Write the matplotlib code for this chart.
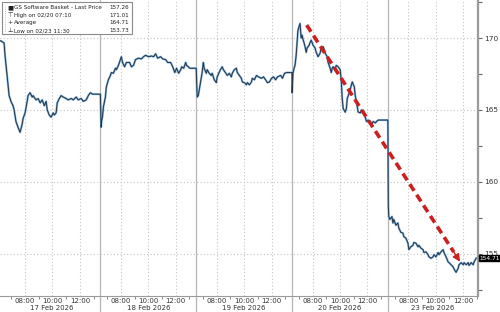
import numpy as np
import matplotlib.pyplot as plt
from matplotlib.transforms import blended_transform_factory
from matplotlib.patches import Rectangle

# sessions (minutes after midnight) and length in minutes
day_labels = ['17 Feb 2026', '18 Feb 2026', '19 Feb 2026', '20 Feb 2026', '23 Feb 2026']
session_open = [370, 390, 390, 390, 390]
session_len = [440, 420, 420, 420, 395]

# prices: minutes after session open / price
d1_min = [0, 4, 13, 18, 22, 31, 40, 48, 57, 62, 70, 79, 88, 97, 101, 110, 119, 123, 132, 141, 145,
          158, 167, 176, 185, 194, 202, 207, 216, 224, 233, 238, 246, 251, 260, 268, 277, 290, 299,
          312, 321, 334, 343, 356, 365, 378, 387, 396, 405, 440]
d1_px = [169.8, 169.8, 169.7, 169.65, 168.8, 167.4, 166.0, 165.6, 165.3, 165.0, 164.2, 163.8, 163.45,
         164.0, 164.4, 164.8, 165.6, 166.0, 166.2, 165.9, 166.0, 165.7, 165.8, 165.5, 165.7, 165.3,
         165.6, 165.0, 164.65, 164.5, 164.8, 164.65, 164.8, 165.5, 165.8, 166.0, 165.9, 165.8, 165.7,
         165.8, 165.7, 165.9, 165.7, 165.8, 165.6, 165.7, 166.0, 166.2, 166.1, 166.1]

d2_min = [0, 3, 6, 9, 13, 22, 26, 35, 44, 48, 57, 66, 70, 79, 88, 92, 97, 106, 114, 128, 136, 145,
          154, 167, 180, 189, 198, 211, 224, 233, 242, 251, 264, 273, 286, 295, 308, 317, 326, 334,
          343, 352, 356, 365, 374, 378, 392, 418]
d2_px = [166.1, 163.8, 164.3, 164.5, 165.2, 165.9, 166.6, 167.1, 167.4, 167.6, 167.55, 167.9, 167.8,
         168.1, 168.5, 168.7, 168.3, 168.0, 168.3, 168.3, 168.0, 168.1, 168.5, 168.6, 168.55, 168.7,
         168.8, 168.7, 168.75, 168.7, 168.9, 168.6, 168.7, 168.55, 168.5, 168.3, 168.3, 168.0, 167.6,
         167.9, 167.55, 167.8, 168.0, 167.9, 168.3, 168.1, 167.9, 167.9]

d3_min = [0, 4, 9, 26, 31, 35, 44, 48, 57, 66, 70, 79, 88, 92, 106, 114, 119, 128, 136, 145, 154,
          158, 167, 176, 180, 189, 198, 202, 211, 220, 224, 233, 242, 246, 255, 264, 273, 286, 295,
          304, 312, 321, 330, 339, 348, 356, 370, 378, 387, 396, 420]
d3_px = [167.9, 165.9, 166.0, 167.6, 168.3, 167.9, 167.55, 167.8, 167.55, 167.4, 167.55, 167.1, 166.9,
         167.3, 167.8, 168.0, 167.8, 167.6, 167.4, 167.55, 167.3, 167.55, 167.8, 167.9, 167.6, 167.4,
         167.2, 166.95, 166.9, 166.75, 166.9, 166.75, 166.95, 167.2, 167.1, 167.4, 167.3, 167.2, 167.3,
         167.1, 166.9, 166.95, 167.2, 167.3, 167.1, 167.3, 167.4, 167.2, 167.55, 167.6, 167.6]

d4_min = [0, 4, 9, 13, 18, 22, 26, 31, 35, 40, 44, 48, 53, 57, 62, 66, 75, 79, 84, 92, 101, 106,
          114, 123, 128, 136, 141, 145, 154, 158, 167, 172, 176, 180, 189, 194, 202, 211, 216, 220,
          224, 233, 238, 242, 251, 255, 260, 264, 273, 277, 282, 290, 299, 304, 312, 321, 326, 334,
          343, 348, 356, 365, 370, 378, 414]
d4_px = [166.2, 167.55, 167.9, 168.1, 168.8, 169.7, 170.55, 170.8, 171.01, 170.0, 170.2, 169.9, 169.65,
         169.4, 169.0, 169.3, 169.5, 169.7, 169.85, 169.5, 169.3, 169.0, 168.7, 168.95, 169.3, 169.4,
         169.2, 168.95, 168.7, 168.3, 167.9, 167.6, 167.9, 168.0, 167.9, 168.1, 168.0, 167.8, 166.95,
         165.8, 165.1, 164.85, 165.1, 165.8, 166.2, 166.4, 166.75, 166.95, 166.6, 166.0, 165.55,
         164.85, 164.8, 165.0, 164.85, 164.5, 164.2, 164.3, 164.1, 164.0, 164.2, 164.1, 164.2, 164.3,
         164.3]

d5_min = [0, 2, 4, 9, 18, 22, 26, 35, 44, 48, 57, 66, 70, 79, 88, 92, 101, 110, 114, 123, 132, 136,
          145, 154, 158, 167, 176, 180, 189, 198, 202, 211, 220, 224, 233, 242, 246, 255, 264, 268,
          277, 286, 290, 299, 308, 312, 321, 330, 334, 343, 352, 356, 365, 374, 378, 387]
d5_px = [164.3, 158.3, 157.6, 157.4, 157.6, 157.15, 157.4, 157.0, 157.15, 156.8, 156.5, 156.45, 156.2,
         156.1, 155.75, 155.3, 155.5, 155.6, 155.8, 155.75, 155.5, 155.6, 155.4, 155.3, 155.1, 155.15,
         154.95, 154.8, 154.7, 154.8, 154.95, 154.8, 155.1, 154.95, 155.15, 155.3, 155.1, 154.8, 154.45,
         154.4, 154.25, 154.1, 153.95, 153.73, 154.0, 154.25, 154.4, 154.25, 154.4, 154.25, 154.4,
         154.2, 154.4, 154.25, 154.45, 154.71]

day_min = [d1_min, d2_min, d3_min, d4_min, d5_min]
day_px = [d1_px, d2_px, d3_px, d4_px, d5_px]

legend_rows = [('■', 'GS Software Basket - Last Price', '157.26'),
               ('⊤', 'High on 02/20 07:10', '171.01'),
               ('+', 'Average', '164.71'),
               ('⊥', 'Low on 02/23 11:30', '153.73')]
last_price = 154.71

offsets = np.concatenate([[0], np.cumsum(session_len)[:-1]])


def xpos(d, m):
    return offsets[d] + np.asarray(m, dtype=float)


xs = np.concatenate([xpos(d, day_min[d]) for d in range(5)])
ys = np.concatenate([np.asarray(p, dtype=float) for p in day_px])

fig = plt.figure(figsize=(5, 3.12), dpi=100)
ax = fig.add_axes([0.0, 16 / 312, 478 / 500, 296 / 312])

grid_c = '#c4c4c4'
for v in [155, 160, 165, 170]:
    ax.axhline(v, color=grid_c, lw=0.8, ls=(0, (1, 2)), zorder=0)

major, major_lbl, minor = [], [], []
for d in range(5):
    for h in [8, 10, 12]:
        major.append(xpos(d, h * 60 - session_open[d]))
        major_lbl.append('%02d:00' % h)
    for h in [7, 9, 11, 13]:
        m = h * 60 - session_open[d]
        if 0 <= m <= session_len[d]:
            minor.append(xpos(d, m))
for x in major:
    ax.axvline(x, color=grid_c, lw=0.8, ls=(0, (1, 2)), zorder=0)
for d in range(1, 5):
    ax.axvline(offsets[d], ymin=-16 / 296, ymax=1, color='#b5b5b5', lw=0.9, clip_on=False, zorder=0)

ax.plot(xs, ys, color='#7fb2dc', lw=1.5, zorder=2)
ax.plot(xs, ys, color='#263545', lw=0.7, zorder=3)

# red trend arrow
x0, y0 = xpos(3, 64), 170.9
x1, y1 = xpos(4, 323), 154.3
ax.plot([x0, x0 + (x1 - x0) * 0.95], [y0, y0 + (y1 - y0) * 0.95], color='#cc1f1f', lw=2.6,
        dashes=(2.2, 1.3), zorder=4)
ax.annotate('', xy=(x1, y1), xytext=(x0 + (x1 - x0) * 0.94, y0 + (y1 - y0) * 0.94),
            arrowprops=dict(arrowstyle='-|>', color='#cc1f1f', lw=1, mutation_scale=11), zorder=5)

ax.set_xlim(0, offsets[4] + session_len[4])
ax.set_ylim(152.08, 172.64)

ax.yaxis.tick_right()
ax.set_yticks([155, 160, 165, 170])
ax.set_yticks([152.5, 157.5, 162.5, 167.5, 172.5], minor=True)
ax.tick_params(axis='y', which='both', direction='out', length=3, width=0.8, colors='#666666',
               labelsize=5.3, labelcolor='#333333', pad=1.5)
ax.set_xticks(major)
ax.set_xticklabels(major_lbl)
ax.set_xticks(minor, minor=True)
ax.tick_params(axis='x', which='major', length=0, labelsize=5, labelcolor='#333333', pad=1.5)
ax.tick_params(axis='x', which='minor', direction='out', length=2, width=0.7, colors='#888888')

for s in ['left', 'top']:
    ax.spines[s].set_visible(False)
ax.spines['right'].set_color('#9a9a9a')
ax.spines['right'].set_linewidth(1.6)
ax.spines['bottom'].set_color('#9a9a9a')
ax.spines['bottom'].set_linewidth(0.8)

trans = blended_transform_factory(ax.transData, ax.transAxes)
for d in range(5):
    ax.text(offsets[d] + session_len[d] / 2 + (5 if d == 0 else 0), -12 / 296, day_labels[d],
            transform=trans, ha='center', va='center', fontsize=5, color='#333333')

ax.annotate('%.2f' % last_price, xy=(1.0, last_price), xycoords=('axes fraction', 'data'),
            xytext=(1, 0), textcoords='offset points', ha='left', va='center', fontsize=4.2,
            color='white', annotation_clip=False,
            bbox=dict(boxstyle='square,pad=0.1', fc='black', ec='black'))

# legend box
fig.patches.append(Rectangle((2 / 500, 1 - 34 / 312), 130 / 500, 32 / 312, transform=fig.transFigure,
                             fc='white', ec='#8a8a8a', lw=0.8, zorder=10))
fig.lines.append(plt.Line2D([5 / 500, 5 / 500], [1 - 6 / 312, 1 - 31 / 312], transform=fig.transFigure,
                            color='#b0b0b0', lw=0.6, ls=':', zorder=11))
for i, (sym, name, val) in enumerate(legend_rows):
    yy = 1 - (7.5 + i * 7.7) / 312
    fig.text(10 / 500, yy, sym, fontsize=4.6, color='#222222', ha='center', va='center', zorder=12)
    fig.text(14 / 500, yy, name, fontsize=4.1, color='#222222', ha='left', va='center', zorder=12)
    fig.text(129 / 500, yy, val, fontsize=4.1, color='#222222', ha='right', va='center', zorder=12)

fig.savefig('out.png', dpi=100)
